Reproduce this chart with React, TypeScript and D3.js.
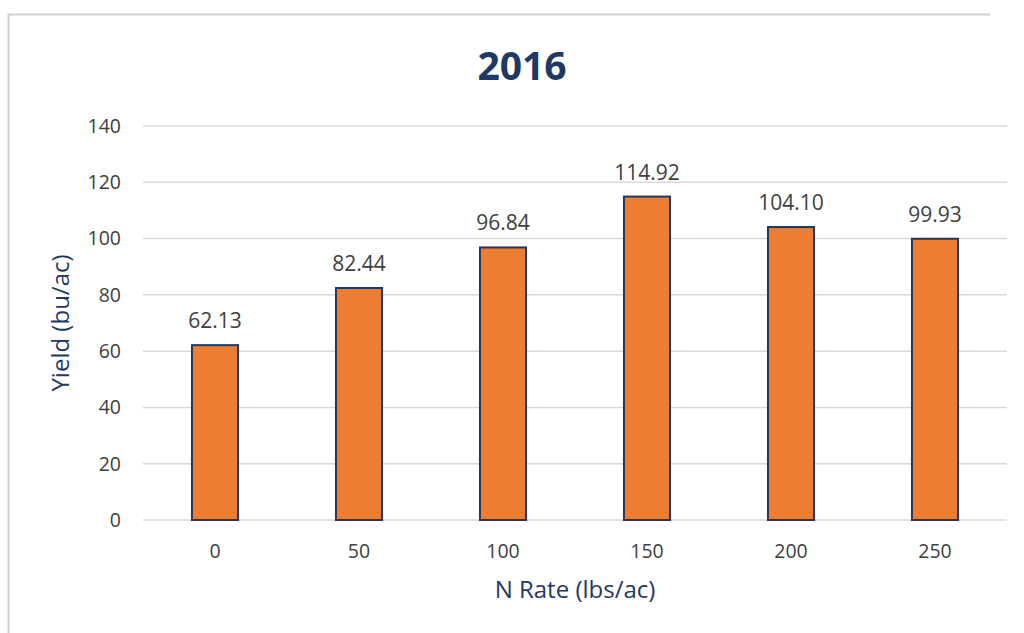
import { useRef, useEffect } from 'react'
import * as d3 from 'd3'

const nRates = ['0', '50', '100', '150', '200', '250']
const yields = [62.13, 82.44, 96.84, 114.92, 104.1, 99.93]
const yTicks = [0, 20, 40, 60, 80, 100, 120, 140]

const FONT = '"Open Sans", "Noto Sans", sans-serif'

export default function App() {
  const ref = useRef<SVGSVGElement>(null)

  useEffect(() => {
    if (!ref.current) return
    const svg = d3.select(ref.current)
    svg.selectAll('*').remove()
    const width = 1024
    const height = 633
    const left = 143
    const right = 1007
    const top = 126
    const bottom = 520

    svg.append('rect').attr('width', width).attr('height', height).attr('fill', '#fff')
    // chart border (only top and left visible)
    svg.append('path')
      .attr('d', 'M8.5,633 L8.5,14.5 L990,14.5')
      .attr('fill', 'none')
      .attr('stroke', '#d0d0d0')
      .attr('stroke-width', 2)

    const x = d3.scaleBand<string>()
      .domain(nRates)
      .range([left, right])
      .paddingInner(0.68)
      .paddingOuter(0.34)
    const y = d3.scaleLinear().domain([0, 140]).range([bottom, top])

    svg.append('g')
      .selectAll('line')
      .data(yTicks)
      .enter()
      .append('line')
      .attr('x1', left)
      .attr('x2', right)
      .attr('y1', d => y(d))
      .attr('y2', d => y(d))
      .attr('stroke', '#d9d9d9')
      .attr('stroke-width', 1.5)

    svg.append('g')
      .selectAll('text')
      .data(yTicks)
      .enter()
      .append('text')
      .attr('x', 121)
      .attr('y', d => y(d))
      .attr('dy', '0.35em')
      .attr('text-anchor', 'end')
      .attr('font-family', FONT)
      .attr('font-size', 19.5)
      .attr('fill', '#404040')
      .text(d => d)

    const data = nRates.map((r, i) => ({ r, v: yields[i] }))

    svg.append('g')
      .selectAll('rect')
      .data(data)
      .enter()
      .append('rect')
      .attr('x', d => x(d.r) || 0)
      .attr('y', d => y(d.v))
      .attr('width', x.bandwidth())
      .attr('height', d => bottom - y(d.v))
      .attr('fill', '#ED7D31')
      .attr('stroke', '#1F3864')
      .attr('stroke-width', 2)

    svg.append('g')
      .selectAll('text')
      .data(data)
      .enter()
      .append('text')
      .attr('x', d => (x(d.r) || 0) + x.bandwidth() / 2)
      .attr('y', d => y(d.v) - 17)
      .attr('text-anchor', 'middle')
      .attr('font-family', FONT)
      .attr('font-size', 21)
      .attr('fill', '#404040')
      .text(d => d.v.toFixed(2))

    svg.append('g')
      .selectAll('text')
      .data(nRates)
      .enter()
      .append('text')
      .attr('x', d => (x(d) || 0) + x.bandwidth() / 2)
      .attr('y', 558)
      .attr('text-anchor', 'middle')
      .attr('font-family', FONT)
      .attr('font-size', 19.5)
      .attr('fill', '#404040')
      .text(d => d)

    svg.append('text')
      .attr('x', 522)
      .attr('y', 80)
      .attr('text-anchor', 'middle')
      .attr('font-family', FONT)
      .attr('font-weight', 'bold')
      .attr('font-size', 39)
      .attr('fill', '#1F3864')
      .text('2016')

    svg.append('text')
      .attr('x', 575)
      .attr('y', 598)
      .attr('text-anchor', 'middle')
      .attr('font-family', FONT)
      .attr('font-size', 24)
      .attr('fill', '#1F3864')
      .text('N Rate (lbs/ac)')

    svg.append('text')
      .attr('transform', 'translate(69,323) rotate(-90)')
      .attr('text-anchor', 'middle')
      .attr('font-family', FONT)
      .attr('font-size', 24)
      .attr('fill', '#1F3864')
      .text('Yield (bu/ac)')
  }, [])

  return (
    <svg
      ref={ref}
      width={1024}
      height={633}
      style={{ position: 'absolute', left: 0, top: 0 }}
    />
  )
}
